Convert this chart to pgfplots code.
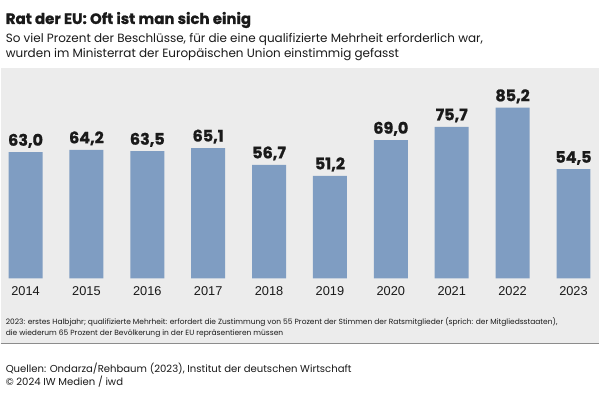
\documentclass[border=0pt]{standalone}
\usepackage{pgfplots}
\pgfplotsset{compat=1.18}
\usepackage{fontspec}
\setmainfont{Poppins}
\newfontfamily\heavy{Poppins}[BoldFeatures={FakeBold=0.9}]
\newfontfamily\yearfont{Liberation Sans}
\definecolor{barblue}{HTML}{7F9DC2}
\definecolor{panelgray}{HTML}{ECECEC}
\definecolor{txt}{HTML}{1A1A1A}
\begin{document}
\begin{tikzpicture}[x=1pt,y=1pt]
\fill[white] (0,0) rectangle (600,-398);
\fill[panelgray] (0,-68) rectangle (600,-344);
\draw[line width=1.2pt, color=black!45] (0,-344) -- (600,-344);
\node[anchor=base west, inner sep=0, text=txt, font=\heavy\fontsize{15}{17}\selectfont\bfseries] at (5,-24) {Rat der EU: Oft ist man sich einig};
\node[anchor=base west, inner sep=0, text=txt, font=\fontsize{12}{14}\selectfont] at (5,-43) {So viel Prozent der Beschlüsse, für die eine qualifizierte Mehrheit erforderlich war,};
\node[anchor=base west, inner sep=0, text=txt, font=\fontsize{12}{14}\selectfont] at (5,-57.3) {wurden im Ministerrat der Europäischen Union einstimmig gefasst};
\node[anchor=base west, inner sep=0, text=txt, font=\fontsize{7.5}{9}\selectfont] at (5,-325) {2023: erstes Halbjahr; qualifizierte Mehrheit: erfordert die Zustimmung von 55 Prozent der Stimmen der Ratsmitglieder (sprich: der Mitgliedsstaaten),};
\node[anchor=base west, inner sep=0, text=txt, font=\fontsize{7.5}{9}\selectfont] at (5,-335.7) {die wiederum 65 Prozent der Bevölkerung in der EU repräsentieren müssen};
\node[anchor=base west, inner sep=0, text=txt, font=\fontsize{10.1}{12}\selectfont] at (5,-373) {Quellen: Ondarza/Rehbaum (2023), Institut der deutschen Wirtschaft};
\node[anchor=base west, inner sep=0, text=txt, font=\fontsize{10.1}{12}\selectfont] at (5,-386) {© 2024 IW Medien / iwd};
\begin{axis}[
  at={(0pt,-279pt)}, anchor=south west,
  scale only axis, width=600pt, height=211pt,
  xmin=-0.41, xmax=9.426, ymin=0, ymax=105.1,
  clip=false,
  axis line style={draw=none},
  ytick=\empty,
  xtick={0,...,9},
  xticklabels={2014,2015,2016,2017,2018,2019,2020,2021,2022,2023},
  major tick length=0pt,
  xticklabel style={anchor=base, yshift=-17pt, inner sep=0pt, text=txt, font=\yearfont\fontsize{12.8}{14}\selectfont},
  nodes near coords,
  /pgf/number format/.cd, use comma, fixed, fixed zerofill, precision=1, assume math mode=true,
  /pgfplots/.cd,
  every node near coord/.append style={anchor=base, yshift=6.5pt, inner sep=0pt, text=txt, font=\heavy\fontsize{16}{18}\selectfont\bfseries},
]
\addplot[ybar, bar width=34pt, fill=barblue, draw=none] coordinates {
(0,63.0) (1,64.2) (2,63.5) (3,65.1) (4,56.7) (5,51.2) (6,69.0) (7,75.7) (8,85.2) (9,54.5)};
\end{axis}
\end{tikzpicture}
\end{document}
